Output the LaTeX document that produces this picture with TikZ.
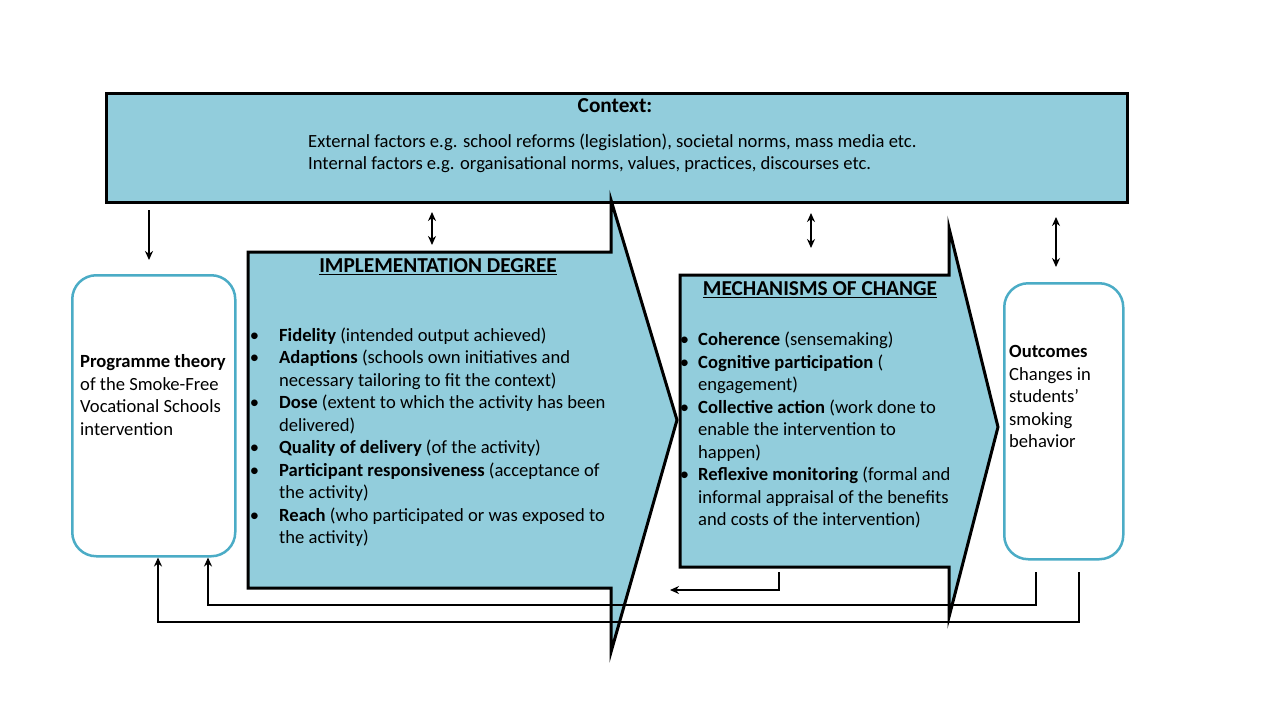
\documentclass[tikz,border=0pt]{standalone}
\usepackage{fontspec}
\setmainfont{Carlito}
\usepackage{xcolor}
\usepackage{tikz}
\usetikzlibrary{arrows.meta}
\usetikzlibrary{calc}
\definecolor{ctxblue}{RGB}{146,205,220}
\definecolor{boxteal}{RGB}{75,172,198}
\newcommand{\bulletat}[1]{\llap{\textbullet\hspace{#1pt}}}

\begin{document}
\begin{tikzpicture}[x=1pt,y=-1pt,
    txt/.style={font=\fontsize{18.6}{22.5}\selectfont, inner sep=0pt, align=left, anchor=north west},
    ttl/.style={font=\fontsize{21.3}{25}\selectfont\bfseries, inner sep=0pt, anchor=center},
    blk/.style={draw=black, line width=3pt, fill=ctxblue},
    rbox/.style={draw=boxteal, line width=2.5pt, fill=white, rounded corners=24pt, inner sep=0pt, anchor=north west},
    link/.style={draw=black, line width=1.6pt, -{Stealth[length=9pt,width=8pt]}},
    twoway/.style={draw=black, line width=1.6pt, {Stealth[length=9pt,width=8pt]}-{Stealth[length=9pt,width=8pt]}}]
    \useasboundingbox (0,0) rectangle (1280,720);

    % Context
    \node[blk, minimum width=1021pt, minimum height=109pt, inner sep=0pt, anchor=north west] (ctx) at (105,92) {};
    \node[ttl] (ctxtitle) at (615,106) {Context:};
    \node[txt] (ctxtext) at (308,133.5) {External factors e.g. school reforms (legislation), societal norms, mass media etc.\\
        Internal factors e.g. organisational norms, values, practices, discourses etc.};

    % Programme theory and outcomes
    \node[rbox, minimum width=163pt, minimum height=281pt] (theory) at (71,274) {};
    \node[txt] (theorytext) at (80,354.5) {\textbf{Programme theory}\\of the Smoke-Free\\Vocational Schools\\intervention};
    \node[rbox, minimum width=119pt, minimum height=276pt] (outcome) at (1003,282) {};
    \node[txt] (outcometext) at (1009,345.5) {\textbf{Outcomes}\\Changes in\\students’\\smoking\\behavior};

    % Implementation degree
    \draw[blk] (248,252) -- (611,252) -- (611,200) -- (677,420) -- (611,652) -- (611,588) -- (248,588) -- cycle;
    \node[ttl] (imptitle) at (438,267) {\underline{IMPLEMENTATION DEGREE}};
    \node[txt] (implist) at (279,327.5) {\bulletat{20}\textbf{Fidelity} (intended output achieved)\\
        \bulletat{20}\textbf{Adaptions} (schools own initiatives and\\
        necessary tailoring to fit the context)\\
        \bulletat{20}\textbf{Dose} (extent to which the activity has been\\
        delivered)\\
        \bulletat{20}\textbf{Quality of delivery} (of the activity)\\
        \bulletat{20}\textbf{Participant responsiveness} (acceptance of\\
        the activity)\\
        \bulletat{20}\textbf{Reach} (who participated or was exposed to\\
        the activity)};

    % Mechanisms of change
    \draw[blk] (680,275) -- (949,275) -- (949,228) -- (998,427) -- (949,617) -- (949,567) -- (680,567) -- cycle;
    \node[ttl] (mechtitle) at (820,290) {\underline{MECHANISMS OF CHANGE}};
    \node[txt] (mechlist) at (698,332) {\bulletat{9}\textbf{Coherence} (sensemaking)\\
        \bulletat{9}\textbf{Cognitive participation} (\\
        engagement)\\
        \bulletat{9}\textbf{Collective action} (work done to\\
        enable the intervention to\\
        happen)\\
        \bulletat{9}\textbf{Reflexive monitoring} (formal and\\
        informal appraisal of the benefits\\
        and costs of the intervention)};

    % arrows from the context
    \coordinate (imptop) at (432,252);
    \coordinate (mechtop) at (811,275);
    \coordinate (outtop) at (1056,282);
    \draw[link, shorten <=6pt, shorten >=14pt] (ctx.south -| 149,0) -- (149,274);
    \draw[twoway, shorten <=8pt, shorten >=7pt] (ctx.south -| imptop) -- (imptop);
    \draw[twoway, shorten <=9pt, shorten >=27pt] (ctx.south -| mechtop) -- (mechtop);
    \draw[twoway, shorten <=13pt, shorten >=15pt] (ctx.south -| outtop) -- (outtop);

    % feedback loops
    \coordinate (mechfb) at (779,572);
    \coordinate (outfbA) at (1036,572);
    \coordinate (outfbB) at (1079,572);
    \draw[link] (mechfb) -- (779,590) -- (670,590);
    \draw[link] (outfbA) -- (1036,605) -- (208,605) -- (theory.south -| 208,0);
    \draw[link] (outfbB) -- (1079,622) -- (158,622) -- (theory.south -| 158,0);
\end{tikzpicture}
\end{document}
